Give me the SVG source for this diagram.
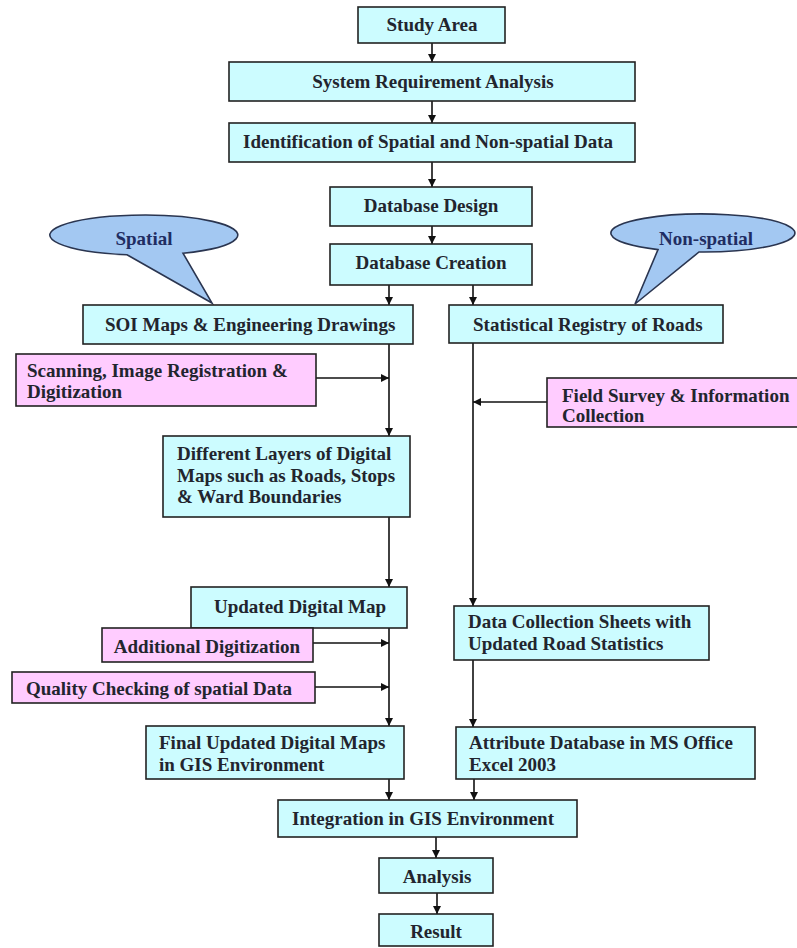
<svg xmlns="http://www.w3.org/2000/svg" width="797" height="948" viewBox="0 0 797 948">
<defs>
<marker id="ah" viewBox="0 0 8 8" refX="8" refY="4" markerWidth="8" markerHeight="8" markerUnits="userSpaceOnUse" orient="auto">
<path d="M0,0 L8,4 L0,8 z" fill="#111"/>
</marker>
</defs>
<style>
.c{fill:#ccfcff;stroke:#222;stroke-width:1.6}
.p{fill:#ffccff;stroke:#222;stroke-width:1.6}
.e{fill:#a3c8f2;stroke:#2a3550;stroke-width:1.6}
text{font-family:"Liberation Serif","Times New Roman",serif;font-weight:bold;font-size:19px;fill:#22252e}
.m{text-anchor:middle}
.b{fill:#1f2d62}
.a{fill:none;stroke:#111;stroke-width:1.6;marker-end:url(#ah)}
</style>
<rect width="797" height="948" fill="#fff"/>
<g id="connectors">
<path class="a" d="M432,43 V62"/>
<path class="a" d="M432,101 V123"/>
<path class="a" d="M432,162 V187"/>
<path class="a" d="M432,226 V244"/>
<path class="a" d="M389,285 V305"/>
<path class="a" d="M473,285 V305"/>
<path class="a" d="M389,344 V436"/>
<path class="a" d="M316,378 H389"/>
<path class="a" d="M389,517 V587"/>
<path class="a" d="M389,628 V726"/>
<path class="a" d="M313,643 H389"/>
<path class="a" d="M315,687 H389"/>
<path class="a" d="M389,779 V800"/>
<path class="a" d="M473,343 V606"/>
<path class="a" d="M547,402 H473"/>
<path class="a" d="M473,660 V727"/>
<path class="a" d="M474,779 V800"/>
<path class="a" d="M436,837 V858"/>
<path class="a" d="M437,893 V914"/>
</g>
<g id="spatial">
<path class="e" d="M127,254.7 A94,20 0 1 1 183,253.2 L212,303 Z"/>
<text class="b" x="144" y="245" text-anchor="middle">Spatial</text>
</g>
<g id="nonspatial">
<path class="e" d="M658,249.6 A92,19 0 1 1 699,252 L635,304 Z"/>
<text class="b" x="706" y="245" text-anchor="middle">Non-spatial</text>
</g>
<g id="study-area"><rect class="c" x="358" y="7" width="147" height="36"/><text class="m" x="432" y="31">Study Area</text></g>
<g id="system-req"><rect class="c" x="229" y="62" width="406" height="39"/><text class="m" x="433" y="88">System Requirement Analysis</text></g>
<g id="identification"><rect class="c" x="229" y="123" width="406" height="39"/><text class="m" x="428" y="148">Identification of Spatial and Non-spatial Data</text></g>
<g id="db-design"><rect class="c" x="330" y="187" width="202" height="39"/><text class="m" x="431" y="212">Database Design</text></g>
<g id="db-creation"><rect class="c" x="330" y="244" width="202" height="41"/><text class="m" x="431" y="269">Database Creation</text></g>
<g id="soi-maps"><rect class="c" x="83" y="305" width="330" height="39"/><text x="105" y="331">SOI Maps &amp; Engineering Drawings</text></g>
<g id="stat-registry"><rect class="c" x="449" y="305" width="274" height="38"/><text x="473" y="331">Statistical Registry of Roads</text></g>
<g id="scanning"><rect class="p" x="16" y="354" width="300" height="52"/><text x="27" y="377">Scanning, Image Registration &amp;</text><text x="27" y="398">Digitization</text></g>
<g id="field-survey"><rect class="p" x="547" y="378" width="252" height="49"/><text x="562" y="402">Field Survey &amp; Information</text><text x="562" y="422">Collection</text></g>
<g id="layers"><rect class="c" x="163" y="436" width="247" height="81"/><text x="177" y="460">Different Layers of Digital</text><text x="177" y="482">Maps such as Roads, Stops</text><text x="177" y="503">&amp; Ward Boundaries</text></g>
<g id="updated-map"><rect class="c" x="191" y="587" width="216" height="41"/><text class="m" x="300" y="613">Updated Digital Map</text></g>
<g id="data-collection"><rect class="c" x="454" y="606" width="255" height="54"/><text x="468" y="628">Data Collection Sheets with</text><text x="468" y="650">Updated Road Statistics</text></g>
<g id="additional"><rect class="p" x="102" y="628" width="211" height="34"/><text class="m" x="207" y="653">Additional Digitization</text></g>
<g id="quality"><rect class="p" x="12" y="672" width="303" height="31"/><text x="26" y="695">Quality Checking of spatial Data</text></g>
<g id="final-maps"><rect class="c" x="146" y="726" width="258" height="53"/><text x="159" y="749">Final Updated Digital Maps</text><text x="159" y="771">in GIS Environment</text></g>
<g id="attribute-db"><rect class="c" x="456" y="727" width="299" height="52"/><text x="469" y="749">Attribute Database in MS Office</text><text x="469" y="771">Excel 2003</text></g>
<g id="integration"><rect class="c" x="278" y="800" width="299" height="37"/><text class="m" x="423" y="825">Integration in GIS Environment</text></g>
<g id="analysis"><rect class="c" x="379" y="858" width="114" height="35"/><text class="m" x="437" y="883">Analysis</text></g>
<g id="result"><rect class="c" x="379" y="914" width="114" height="32"/><text class="m" x="436" y="938">Result</text></g>
</svg>
